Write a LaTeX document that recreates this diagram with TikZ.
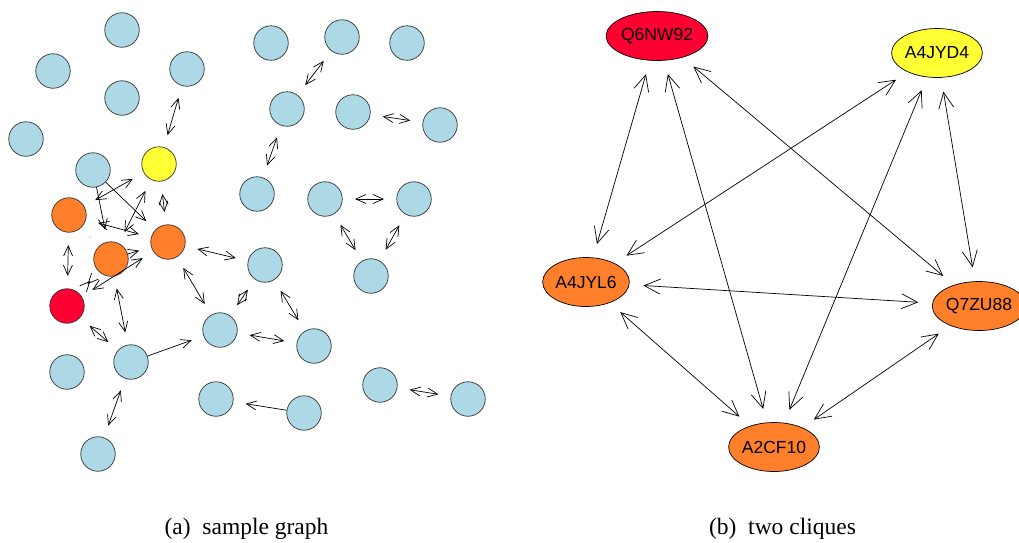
\documentclass[tikz,border=0pt]{standalone}
\usepackage{fontspec}
\setmainfont{Liberation Serif}
\newfontfamily\labfont{Liberation Sans}
\usetikzlibrary{arrows.meta,shapes.geometric}
\definecolor{lb}{HTML}{ADD8E6}
\definecolor{org}{HTML}{FF7F2A}
\definecolor{rd}{HTML}{FF0033}
\definecolor{yl}{HTML}{FFFF33}
\tikzset{
  vtx/.style={circle, draw=black!80, line width=0.7pt, minimum size=34.5pt, inner sep=0pt, fill=lb},
  ell/.style={ellipse, draw=black, line width=0.7pt, minimum width=82pt, minimum height=49pt, inner sep=0pt, font=\labfont\fontsize{17.5}{20}\selectfont},
  tipS/.tip={Straight Barb[length=10pt,width=9pt]},
  tipL/.tip={Straight Barb[length=16pt,width=15pt]},
  dbl/.style={tipS-tipS, line width=0.7pt, shorten <=12.5pt, shorten >=12.5pt},
  sgl/.style={-tipS, line width=0.7pt, shorten >=12.5pt},
  plain/.style={line width=0.7pt, shorten <=12.5pt, shorten >=12.5pt},
  bdbl/.style={tipL-tipL, line width=0.7pt, shorten <=14pt, shorten >=14pt},
  captxt/.style={anchor=base, font=\fontsize{23.5}{28}\selectfont, inner sep=0pt}
}
\begin{document}
\begin{tikzpicture}[x=1pt,y=-1pt]
\useasboundingbox (0,0) rectangle (1019,542);
% ---- left graph ----
\node[vtx] (a1) at (122,30) {};
\node[vtx] (a2) at (53,71) {};
\node[vtx] (a3) at (187,69) {};
\node[vtx] (a4) at (122,98) {};
\node[vtx] (a5) at (26,139) {};
\node[vtx] (a6) at (93,170) {};
\node[vtx, fill=yl] (Y) at (159,164) {};
\node[vtx, fill=org] (O1) at (69,215) {};
\node[vtx, fill=org] (O2) at (111,259) {};
\node[vtx, fill=org] (O3) at (168,242) {};
\node[vtx, fill=rd] (R) at (67,306) {};
\node[vtx] (b1) at (265,265) {};
\node[vtx] (b2) at (220,330) {};
\node[vtx] (b3) at (314,346) {};
\node[vtx] (b4) at (67,372) {};
\node[vtx] (b5) at (131,362) {};
\node[vtx] (b6) at (216,399) {};
\node[vtx] (b7) at (304,413) {};
\node[vtx] (b8) at (380,385) {};
\node[vtx] (b9) at (468,399) {};
\node[vtx] (b10) at (98,454) {};
\node[vtx] (c1) at (271,43) {};
\node[vtx] (c2) at (342,37) {};
\node[vtx] (c3) at (407,43) {};
\node[vtx] (c4) at (287,109) {};
\node[vtx] (c5) at (353,112) {};
\node[vtx] (c6) at (440,125) {};
\node[vtx] (c7) at (257,194) {};
\node[vtx] (c8) at (325,199) {};
\node[vtx] (c9) at (414,199) {};
\node[vtx] (c10) at (371,276) {};

\draw[dbl] (a3) -- (Y);
\draw[dbl] (Y) -- (O3);
\draw[dbl] (O1) -- (Y);
\draw[dbl] (Y) -- (O2);
\draw[sgl] (a6) -- (O3);
\draw[sgl] (a6) -- (O2);
\draw[dbl] (O1) -- (O3);
\draw[sgl] (O2) -- (O3);
\draw[dbl] (R) -- (O3);
\draw[dbl] (R) -- (O2);
\draw[plain] (O1) -- (O2);
\draw[dbl] (O1) -- (R);
\draw[dbl] (O2) -- (b5);
\draw[dbl] (R) -- (b5);
\draw[dbl] (O3) -- (b1);
\draw[dbl] (O3) -- (b2);
\draw[dbl] (b1) -- (b2);
\draw[dbl] (b1) -- (b3);
\draw[dbl] (b2) -- (b3);
\draw[sgl] (b5) -- (b2);
\draw[sgl] (b7) -- (b6);
\draw[dbl] (b5) -- (b10);
\draw[dbl] (b8) -- (b9);
\draw[dbl] (c4) -- (c2);
\draw[dbl] (c4) -- (c7);
\draw[dbl] (c5) -- (c6);
\draw[dbl] (c8) -- (c9);
\draw[dbl] (c8) -- (c10);
\draw[dbl] (c9) -- (c10);

% ---- right graph ----
\node[ell, fill=rd] (Q6) at (657,36) {Q6NW92};
\node[ell, fill=yl] (D4) at (937,53) {A4JYD4};
\node[ell, fill=org] (L6) at (586,282) {A4JYL6};
\node[ell, fill=org] (Z8) at (979,306) {Q7ZU88};
\node[ell, fill=org] (CF) at (774,447) {A2CF10};

\draw[bdbl] (Q6) -- (L6);
\draw[bdbl] (Q6) -- (CF);
\draw[bdbl] (Q6) -- (Z8);
\draw[bdbl] (D4) -- (L6);
\draw[bdbl] (D4) -- (CF);
\draw[bdbl] (D4) -- (Z8);
\draw[bdbl] (L6) -- (Z8);
\draw[bdbl] (L6) -- (CF);
\draw[bdbl] (CF) -- (Z8);

% ---- captions ----
\node[captxt] (capa) at (246.5,534) {(a)~~sample graph};
\node[captxt] (capb) at (782.5,534) {(b)~~two cliques};
\end{tikzpicture}
\end{document}
